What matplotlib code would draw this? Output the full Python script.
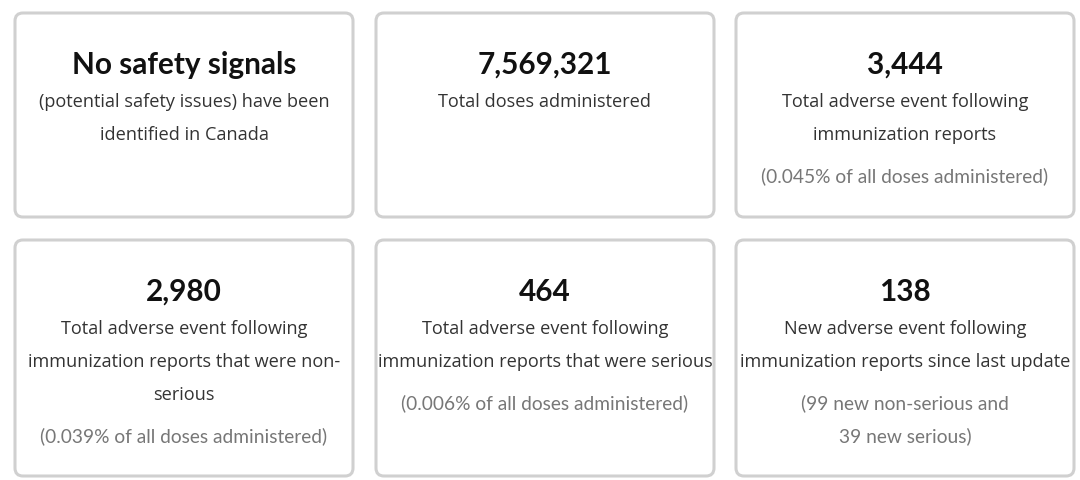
import matplotlib.pyplot as plt
from matplotlib.patches import FancyBboxPatch

# card contents
headlines = ["No safety signals", "7,569,321", "3,444", "2,980", "464", "138"]
descriptions = [
    ["(potential safety issues) have been", "identified in Canada"],
    ["Total doses administered"],
    ["Total adverse event following", "immunization reports"],
    ["Total adverse event following", "immunization reports that were non-", "serious"],
    ["Total adverse event following", "immunization reports that were serious"],
    ["New adverse event following", "immunization reports since last update"],
]
notes = [
    [],
    [],
    ["(0.045% of all doses administered)"],
    ["(0.039% of all doses administered)"],
    ["(0.006% of all doses administered)"],
    ["(99 new non-serious and", "39 new serious)"],
]

W, H = 1080, 481
fig = plt.figure(figsize=(W / 100, H / 100), dpi=100)
ax = fig.add_axes([0, 0, 1, 1])
ax.set_xlim(0, W)
ax.set_ylim(H, 0)
ax.axis('off')

col_x = [15, 376, 736]
card_w = 338
row_y = [14, 241]
row_h = [204, 236]
line_gap = 32.8

for i, head in enumerate(headlines):
    r, c = divmod(i, 3)
    x0, y0 = col_x[c], row_y[r]
    box = FancyBboxPatch((x0 + 8, y0 + 8), card_w - 16, row_h[r] - 16,
                         boxstyle="round,pad=8", linewidth=2.2,
                         edgecolor='#d0d0d0', facecolor='white')
    ax.add_patch(box)
    cx = x0 + card_w / 2
    y = y0 + 51
    ax.text(cx, y, head, ha='center', va='center', fontsize=21.4,
            fontweight='bold', family='Lato', color='#111111')
    y += 37
    for line in descriptions[i]:
        ax.text(cx, y, line, ha='center', va='center', fontsize=13.1,
                family='Open Sans', color='#333333')
        y += line_gap
    y += 9
    for line in notes[i]:
        ax.text(cx, y, line, ha='center', va='center', fontsize=13.8,
                family='Lato', color='#777777')
        y += line_gap

fig.savefig('out.png', dpi=100)
